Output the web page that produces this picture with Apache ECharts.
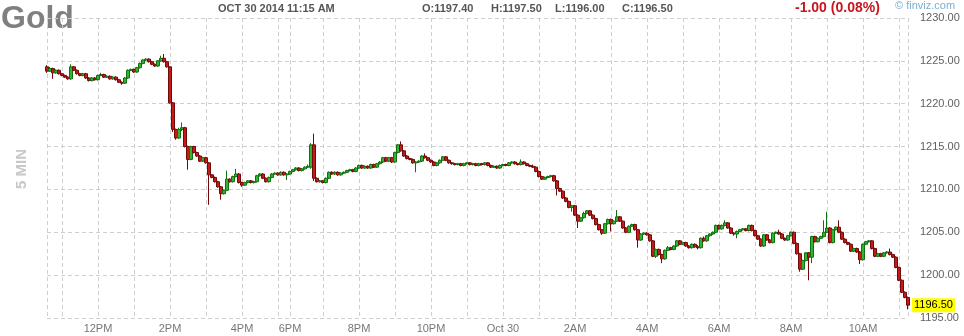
<!DOCTYPE html>
<html>
<head>
<meta charset="utf-8">
<script src="https://cdn.jsdelivr.net/npm/echarts@6/dist/echarts.min.js"></script>
<style>
html,body{margin:0;padding:0;background:#fff;}
#chart{width:964px;height:336px;}
</style>
</head>
<body>
<div id="chart"></div>
<script>
// Trading sessions (date, first bar, last bar) – 5 minute bars
const sessions = [
  ['10-29', '10:35', '17:15'],
  ['10-29', '18:00', '18:05'],
  ['10-29', '18:15', '23:55'],
  ['10-30', '00:00', '11:15']
];

// x-axis tick labels
const tickLabels = [
  ['10-29 12:00', '12PM'], ['10-29 14:00', '2PM'], ['10-29 16:00', '4PM'],
  ['10-29 18:00', '6PM'], ['10-29 20:00', '8PM'], ['10-29 22:00', '10PM'],
  ['10-30 00:00', 'Oct 30'], ['10-30 02:00', '2AM'], ['10-30 04:00', '4AM'],
  ['10-30 06:00', '6AM'], ['10-30 08:00', '8AM'], ['10-30 10:00', '10AM']
];

// y-axis range
const yMin = 1195, yMax = 1230, yStep = 5;

// candles: [open, close, low, high]
const candles = [
[1224.3,1223.8,1223.6,1224.5],[1223.8,1224.1,1223.7,1224.3],[1224.1,1223.6,1222.9,1224.2],[1223.6,1223.9,1223.5,1224.0],
[1223.9,1223.5,1223.4,1224.0],[1223.5,1223.3,1223.2,1223.6],[1223.3,1223.1,1223.0,1223.4],[1223.1,1222.9,1222.8,1223.2],
[1222.9,1224.3,1222.8,1224.6],[1224.3,1223.9,1223.8,1224.4],[1223.9,1223.5,1223.4,1224.0],[1223.5,1223.3,1223.2,1223.6],
[1223.3,1223.5,1223.2,1223.6],[1223.5,1223.0,1222.9,1223.6],[1223.0,1222.7,1222.6,1223.1],[1222.7,1223.0,1222.6,1223.1],
[1223.0,1222.8,1222.7,1223.1],[1222.8,1223.3,1222.7,1223.4],[1223.3,1223.4,1223.2,1223.6],[1223.4,1223.1,1223.0,1223.5],
[1223.1,1223.2,1223.0,1223.3],[1223.2,1222.9,1222.8,1223.3],[1222.9,1223.1,1222.8,1223.2],[1223.1,1222.8,1222.7,1223.2],
[1222.8,1222.5,1222.4,1222.9],[1222.5,1222.4,1222.2,1222.6],[1222.4,1223.0,1222.3,1223.1],[1223.0,1223.9,1222.9,1224.0],
[1223.9,1224.0,1223.8,1224.1],[1224.0,1223.7,1223.6,1224.1],[1223.7,1224.2,1223.6,1224.3],[1224.2,1224.7,1224.1,1224.8],
[1224.7,1225.1,1224.6,1225.2],[1225.1,1225.2,1225.0,1225.3],[1225.2,1224.9,1224.8,1225.3],[1224.9,1224.6,1224.5,1225.0],
[1224.6,1224.4,1224.3,1224.7],[1224.4,1225.0,1224.3,1225.1],[1225.0,1225.3,1224.9,1225.6],[1225.3,1224.9,1224.8,1225.8],
[1224.9,1224.3,1224.2,1225.0],[1224.3,1220.1,1220.0,1224.4],[1220.1,1217.0,1216.7,1220.2],[1217.0,1216.0,1215.8,1217.1],
[1216.0,1217.0,1215.9,1217.2],[1217.0,1217.2,1216.8,1217.8],[1217.2,1215.0,1214.9,1217.3],[1215.0,1213.5,1212.3,1215.1],
[1213.5,1215.0,1213.4,1215.1],[1215.0,1214.3,1214.2,1215.1],[1214.3,1213.9,1213.8,1214.4],[1213.9,1213.3,1213.2,1214.0],
[1213.3,1213.7,1213.2,1213.8],[1213.7,1213.1,1213.0,1213.8],[1213.1,1211.7,1208.2,1213.2],[1211.7,1211.4,1211.3,1211.8],
[1211.4,1210.9,1210.8,1211.5],[1210.9,1210.3,1210.2,1211.0],[1210.3,1209.5,1208.8,1210.4],[1209.5,1209.9,1209.4,1210.0],
[1209.9,1211.2,1209.8,1212.2],[1211.2,1210.9,1210.8,1211.3],[1210.9,1211.5,1210.8,1211.6],[1211.5,1211.8,1211.4,1212.4],
[1211.8,1210.8,1210.7,1211.9],[1210.8,1210.5,1210.3,1210.9],[1210.5,1210.8,1210.4,1210.9],[1210.8,1211.0,1210.7,1211.1],
[1211.0,1210.8,1210.7,1211.1],[1210.8,1210.9,1210.7,1211.0],[1210.9,1211.6,1210.8,1211.7],[1211.6,1211.8,1211.5,1211.9],
[1211.8,1211.3,1211.2,1211.9],[1211.3,1210.9,1210.8,1211.4],[1210.9,1211.4,1210.8,1211.5],[1211.4,1211.8,1211.3,1211.9],
[1211.8,1211.9,1211.7,1212.0],[1211.9,1211.7,1211.6,1212.0],[1211.7,1212.0,1211.6,1212.1],[1212.0,1211.7,1211.6,1212.1],
[1211.7,1211.8,1211.1,1211.9],[1211.8,1212.1,1211.7,1212.2],[1212.1,1212.3,1212.0,1212.4],[1212.3,1212.5,1212.2,1212.6],
[1212.5,1212.2,1212.1,1212.6],[1212.2,1212.4,1212.1,1212.5],[1212.4,1212.6,1212.3,1212.7],[1212.6,1212.7,1212.5,1212.9],
[1212.6,1215.2,1212.4,1215.4],[1215.2,1211.3,1211.0,1216.5],[1211.3,1210.9,1210.8,1211.4],[1210.9,1211.0,1210.8,1211.1],
[1211.0,1210.8,1210.7,1211.1],[1210.8,1211.3,1210.7,1211.4],[1211.3,1212.0,1211.2,1212.1],[1212.0,1211.8,1211.7,1212.1],
[1211.8,1212.0,1211.7,1212.1],[1212.0,1211.7,1211.6,1212.1],[1211.7,1211.9,1211.6,1212.0],[1211.9,1212.0,1211.8,1212.1],
[1212.0,1212.2,1211.9,1212.3],[1212.2,1212.3,1212.1,1212.4],[1212.3,1212.1,1212.0,1212.4],[1212.1,1212.5,1212.0,1212.6],
[1212.5,1212.8,1212.4,1212.9],[1212.8,1212.5,1212.4,1212.9],[1212.5,1212.7,1212.4,1212.8],[1212.7,1212.5,1212.4,1212.8],
[1212.5,1212.9,1212.4,1213.0],[1212.9,1212.6,1212.5,1213.0],[1212.6,1213.0,1212.5,1213.1],[1213.0,1213.2,1212.9,1213.3],
[1213.2,1213.7,1213.1,1213.8],[1213.7,1213.3,1213.2,1213.8],[1213.3,1213.7,1213.2,1213.8],[1213.7,1213.2,1213.1,1213.8],
[1213.2,1214.3,1213.1,1214.4],[1214.3,1215.2,1214.2,1215.3],[1215.2,1214.5,1214.4,1215.6],[1214.5,1213.9,1213.8,1214.6],
[1213.9,1213.6,1213.5,1214.0],[1213.6,1213.5,1213.4,1213.7],[1213.5,1213.1,1213.0,1213.6],[1213.1,1213.2,1212.0,1213.3],
[1213.2,1213.3,1213.1,1213.4],[1213.3,1213.9,1213.2,1214.0],[1213.9,1213.7,1213.6,1214.2],[1213.7,1213.4,1213.3,1213.8],
[1213.4,1213.2,1213.1,1213.5],[1213.2,1212.8,1212.7,1213.3],[1212.8,1213.1,1212.7,1213.2],[1213.1,1213.4,1213.0,1213.5],
[1213.4,1213.8,1213.3,1213.9],[1213.8,1213.4,1213.3,1213.9],[1213.4,1213.1,1213.0,1213.5],[1213.1,1213.0,1212.9,1213.2],
[1213.0,1212.9,1212.8,1213.1],[1212.9,1213.0,1212.8,1213.1],[1213.0,1212.8,1212.7,1213.1],[1212.8,1213.0,1212.7,1213.1],
[1213.0,1213.1,1212.9,1213.2],[1213.1,1212.9,1212.8,1213.2],[1212.9,1213.0,1212.8,1213.1],[1213.0,1212.8,1212.7,1213.1],
[1212.8,1213.0,1212.7,1213.1],[1213.0,1212.9,1212.8,1213.1],[1212.9,1213.1,1212.8,1213.2],[1213.1,1212.8,1212.7,1213.2],
[1212.8,1212.6,1212.5,1212.9],[1212.6,1212.7,1212.5,1212.8],[1212.7,1212.5,1212.4,1212.8],[1212.5,1212.8,1212.4,1212.9],
[1212.8,1212.9,1212.7,1213.0],[1212.9,1212.8,1212.7,1213.0],[1212.8,1213.1,1212.7,1213.2],[1213.1,1213.2,1213.0,1213.3],
[1213.2,1213.0,1212.9,1213.3],[1213.0,1212.9,1212.8,1213.1],[1212.9,1213.2,1212.8,1213.5],[1213.2,1213.0,1212.9,1213.3],
[1213.0,1212.8,1212.7,1213.1],[1212.8,1212.7,1212.6,1212.9],[1212.7,1212.6,1212.5,1212.9],[1212.6,1212.1,1212.0,1212.7],
[1212.1,1211.5,1211.4,1212.2],[1211.5,1211.2,1211.1,1211.6],[1211.2,1211.4,1211.1,1211.5],[1211.4,1211.5,1211.3,1211.6],
[1211.5,1211.6,1211.4,1211.7],[1211.6,1211.0,1210.9,1211.7],[1211.0,1210.1,1209.3,1211.1],[1210.1,1209.8,1209.7,1210.2],
[1209.8,1209.0,1208.9,1209.9],[1209.0,1208.6,1208.5,1209.1],[1208.6,1207.9,1207.8,1208.7],[1207.9,1208.1,1207.4,1208.2],
[1208.1,1207.0,1206.9,1208.2],[1207.0,1206.3,1205.5,1207.1],[1206.3,1206.7,1206.2,1206.8],[1206.7,1207.2,1206.6,1207.4],
[1207.2,1207.5,1207.1,1207.6],[1207.5,1207.0,1206.9,1207.6],[1207.0,1206.6,1206.5,1207.1],[1206.6,1205.9,1205.8,1206.7],
[1205.9,1205.3,1205.2,1206.0],[1205.3,1204.9,1204.7,1205.4],[1204.9,1206.0,1204.8,1206.1],[1206.0,1206.5,1205.9,1206.6],
[1206.5,1206.0,1205.1,1206.6],[1206.0,1206.3,1205.9,1206.4],[1206.3,1206.8,1206.2,1207.6],[1206.8,1206.3,1206.2,1206.9],
[1206.3,1205.5,1205.4,1206.4],[1205.5,1205.0,1204.9,1205.6],[1205.0,1205.7,1204.9,1205.8],[1205.7,1205.9,1205.6,1206.0],
[1205.9,1205.3,1205.2,1206.0],[1205.3,1204.1,1203.2,1205.4],[1204.1,1204.8,1204.0,1204.9],[1204.8,1204.9,1204.7,1205.0],
[1204.9,1204.7,1204.6,1205.0],[1204.7,1204.0,1203.9,1204.8],[1204.0,1202.2,1202.1,1204.1],[1202.2,1203.0,1202.0,1203.1],
[1203.0,1202.4,1202.3,1203.1],[1202.4,1201.9,1201.4,1202.5],[1201.9,1202.9,1201.8,1203.0],[1202.9,1203.2,1202.8,1203.4],
[1203.2,1203.0,1202.9,1203.3],[1203.0,1203.4,1202.9,1203.5],[1203.4,1204.0,1203.3,1204.1],[1204.0,1203.6,1203.5,1204.1],
[1203.6,1203.8,1203.5,1203.9],[1203.8,1203.4,1203.3,1203.9],[1203.4,1203.2,1203.1,1203.5],[1203.2,1203.6,1203.1,1203.7],
[1203.6,1203.3,1203.2,1203.7],[1203.3,1203.2,1203.0,1203.5],[1203.2,1204.3,1203.1,1204.4],[1204.3,1204.0,1203.9,1204.5],
[1204.0,1204.6,1203.9,1204.7],[1204.6,1204.8,1204.5,1204.9],[1204.8,1205.0,1204.7,1205.1],[1205.0,1205.8,1204.9,1205.9],
[1205.8,1205.4,1205.3,1205.9],[1205.4,1205.8,1205.3,1205.9],[1205.8,1206.1,1205.7,1206.4],[1206.1,1205.5,1205.4,1206.2],
[1205.5,1204.9,1204.8,1205.6],[1204.9,1204.8,1204.6,1205.0],[1204.8,1205.1,1204.3,1205.2],[1205.1,1205.3,1205.0,1205.4],
[1205.3,1205.4,1205.2,1205.5],[1205.4,1205.2,1205.1,1205.5],[1205.2,1205.8,1205.1,1205.9],[1205.8,1205.2,1205.1,1205.9],
[1205.2,1204.6,1204.5,1205.3],[1204.6,1204.2,1204.1,1204.7],[1204.2,1203.4,1203.3,1204.3],[1203.4,1204.7,1203.3,1204.8],
[1204.7,1204.1,1204.0,1204.8],[1204.1,1203.8,1203.7,1204.2],[1203.8,1204.9,1203.7,1205.0],[1204.9,1205.0,1204.8,1205.1],
[1205.0,1204.8,1204.7,1205.3],[1204.8,1204.3,1204.2,1204.9],[1204.3,1204.1,1204.0,1204.4],[1204.1,1204.6,1204.0,1204.7],
[1204.6,1205.0,1204.5,1205.1],[1205.0,1203.7,1203.6,1205.1],[1203.7,1202.5,1202.4,1203.8],[1202.5,1200.7,1200.4,1202.6],
[1200.7,1201.7,1200.6,1201.8],[1201.7,1202.6,1201.6,1202.7],[1202.6,1202.1,1199.4,1202.7],[1202.1,1204.5,1201.4,1204.6],
[1204.5,1203.9,1203.8,1204.6],[1203.9,1204.3,1203.8,1204.4],[1204.3,1204.5,1204.2,1204.6],[1204.5,1205.0,1204.4,1206.4],
[1205.0,1205.5,1204.9,1207.4],[1205.5,1203.8,1203.7,1205.6],[1203.8,1205.3,1203.7,1205.4],[1205.3,1205.6,1205.2,1205.7],
[1205.6,1205.0,1204.9,1206.4],[1205.0,1204.2,1204.1,1205.1],[1204.2,1203.8,1203.7,1204.3],[1203.8,1203.6,1203.5,1203.9],
[1203.6,1202.8,1202.7,1203.7],[1202.8,1203.1,1202.7,1203.2],[1203.1,1202.7,1202.6,1203.2],[1202.7,1201.8,1201.3,1202.8],
[1201.8,1203.6,1201.7,1203.7],[1203.6,1203.9,1203.5,1204.0],[1203.9,1204.0,1203.8,1204.1],[1204.0,1203.1,1203.0,1204.1],
[1203.1,1202.2,1202.1,1203.2],[1202.2,1202.5,1202.1,1202.6],[1202.5,1202.2,1202.1,1202.6],[1202.2,1202.6,1202.1,1202.7],
[1202.6,1202.7,1202.5,1202.8],[1202.7,1202.4,1202.3,1203.1],[1202.4,1202.1,1202.0,1202.5],[1202.1,1200.9,1200.8,1202.2],
[1200.9,1199.4,1199.3,1201.0],[1199.4,1198.0,1197.9,1199.5],[1198.0,1197.4,1197.3,1198.1],[1197.4,1196.5,1196.0,1197.5]
];

// header texts
const headerDate = 'OCT 30 2014 11:15 AM';
const headerOHLC = ['O:1197.40', 'H:1197.50', 'L:1196.00', 'C:1196.50'];
const headerChange = '-1.00 (0.08%)';

function toMin(s) { const p = s.split(':'); return (+p[0]) * 60 + (+p[1]); }
function pad(n) { return (n < 10 ? '0' : '') + n; }
const categories = [];
sessions.forEach(function (s) {
  for (let t = toMin(s[1]); t <= toMin(s[2]); t += 5) {
    categories.push(s[0] + ' ' + pad(Math.floor(t / 60)) + ':' + pad(t % 60));
  }
});
const labelMap = new Map(tickLabels);
const lastIdx = categories.length - 1;
const lastClose = candles[candles.length - 1][1];

const FONT = '"Liberation Sans", Arial, sans-serif';
const gridLine = { color: '#cfcfcf', width: 1, type: [4, 3] };

const chart = echarts.init(document.getElementById('chart'), null, { renderer: 'canvas' });
const hx = [422, 491, 555, 622];
const graphics = [
  { type: 'text', left: 1, top: 3, style: { text: 'Gold', font: 'bold 32px ' + FONT, fill: '#808080' } },
  { type: 'text', left: 218, top: 3, style: { text: headerDate, font: 'bold 11px ' + FONT, fill: '#555' } },
  { type: 'text', left: 795, top: 1, style: { text: headerChange, font: 'bold 14px ' + FONT, fill: '#c8141e' } },
  { type: 'text', left: 895, top: 0, style: { text: '\u00a9 finviz.com', font: '11px ' + FONT, fill: '#7aaed0' } },
  { type: 'text', x: 22, y: 169, rotation: Math.PI / 2,
    style: { text: '5 MIN', font: 'bold 15px ' + FONT, fill: '#c8c8c8', align: 'center', verticalAlign: 'middle' } }
];
headerOHLC.forEach(function (t, i) {
  graphics.push({ type: 'text', left: hx[i], top: 3, style: { text: t, font: 'bold 11px ' + FONT, fill: '#555' } });
});

chart.setOption({
  animation: false,
  textStyle: { fontFamily: FONT },
  grid: { left: 47, right: 56, top: 18, bottom: 18, containLabel: false },
  graphic: graphics,
  xAxis: {
    type: 'category',
    data: categories,
    boundaryGap: false,
    axisLine: { show: false },
    axisTick: { show: false },
    axisLabel: {
      interval: function (idx, val) { return labelMap.has(val); },
      formatter: function (val) { return labelMap.get(val) || ''; },
      color: '#777', fontSize: 11, margin: 5
    },
    splitLine: {
      show: true,
      interval: function (idx, val) { return idx === 0 || idx === lastIdx || /:00$/.test(val); },
      lineStyle: gridLine
    }
  },
  yAxis: {
    type: 'value',
    position: 'right',
    min: yMin, max: yMax, interval: yStep,
    axisLine: { show: false },
    axisTick: { show: false },
    axisLabel: { color: '#606060', fontSize: 11, margin: 12, formatter: function (v) { return v.toFixed(2); } },
    splitLine: { show: true, lineStyle: gridLine }
  },
  series: [{
    type: 'candlestick',
    data: candles,
    barWidth: 3,
    clip: false,
    itemStyle: {
      color: '#2fb52f', borderColor: '#117011',
      color0: '#c41a1a', borderColor0: '#720808',
      borderWidth: 1
    },
    markLine: {
      silent: true,
      symbol: ['none', 'none'],
      lineStyle: { color: 'rgba(0,0,0,0)', width: 0 },
      label: {
        show: true, position: 'end', distance: 4,
        formatter: lastClose.toFixed(2),
        backgroundColor: '#ffff00', color: '#000', fontSize: 11, padding: [2, 2, 1, 2]
      },
      data: [{ yAxis: lastClose }]
    }
  }]
});
</script>
</body>
</html>
